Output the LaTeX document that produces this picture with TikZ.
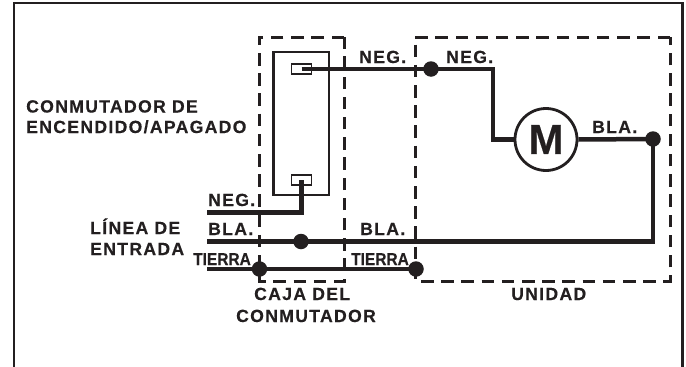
\documentclass[tikz,border=0pt]{standalone}
\usepackage{fontspec}
\setmainfont{Liberation Sans}[BoldFont=* Bold]
\newfontfamily\lblfont{Liberation Sans Bold}[LetterSpace=7.5,FakeBold=0.35]
\newfontfamily\tightfont{Liberation Sans Bold}[FakeBold=0.35]
\newfontfamily\narrowfont{Liberation Sans Bold}[FakeBold=0.35,FakeStretch=0.9]
\definecolor{ink}{HTML}{231F20}
\tikzset{
  lbl/.style={anchor=base west,inner sep=0pt,text=ink,font=\lblfont\fontsize{17.6}{18}\selectfont},
  tlbl/.style={anchor=base west,inner sep=0pt,text=ink,font=\narrowfont\fontsize{17.2}{18}\selectfont},
  wire/.style={draw=ink,line width=4.5pt,line join=miter},
  box/.style={draw=ink,line width=3pt,dash pattern=on 12.5pt off 7.7pt},
  solidbox/.style={draw=ink,line width=2.8pt},
  term/.style={draw=ink,line width=1.7pt,fill=white},
  dot/.style={circle,fill=ink,inner sep=0pt,minimum size=15.5pt}
}
\begin{document}
\begin{tikzpicture}[x=1pt,y=-1pt]
\useasboundingbox (0,0) rectangle (686,367);
\fill[white] (0,0) rectangle (686,367);
% outer frame, open at the bottom
\draw[draw=ink,line width=2.8pt] (14,367) -- (14,3) -- (682.5,3) -- (682.5,367);
% dashed boxes
\draw[box] (344,37) -- (259,37) -- (259,281) -- (344,281) -- cycle;
\draw[box] (670,37) -- (415,37) -- (415,281) -- (670,281) -- cycle;
% switch
\draw[solidbox] (273.5,52) rectangle (329,195);
\node[term,minimum width=20pt,minimum height=10pt,inner sep=0pt] (t1) at (301.5,69) {};
\node[term,minimum width=20pt,minimum height=10pt,inner sep=0pt] (t2) at (301.5,180) {};
% junctions
\node[dot] (j1) at (431,69) {};
\node[dot] (j2) at (653,139) {};
\node[dot] (j3) at (301,241.5) {};
\node[dot] (j4) at (259.5,269) {};
\node[dot] (j5) at (416,269) {};
\coordinate (negin) at (207,212.5);
\coordinate (blain) at (207,241.5);
\coordinate (tierin) at (207,269);
% motor
\node[circle,draw=ink,line width=2.8pt,fill=white,minimum size=62pt,inner sep=0pt,text=ink] (m) at (546,139.5) {\tightfont\fontsize{42}{42}\selectfont M};
% wires
\draw[wire] (t1.center) -- (j1.center);
\draw[wire] (j1.center) -| (493,139.5) -- (m.west);
\draw[wire] (m.east) -- (j2.center);
\draw[wire] (j2.center) -- (653,241.5) -- (blain);
\draw[wire] (negin) -| (t2.center);
\draw[wire] (tierin) -- (j5.center);
% labels
\node[lbl] (a) at (26,112.5) {CONMUTADOR DE};
\node[lbl] (b) at (26,133) {ENCENDIDO/APAGADO};
\node[lbl] (c) at (90,234) {LÍNEA DE};
\node[lbl] (d) at (90,255) {ENTRADA};
\node[lbl] (e) at (208,206) {NEG.};
\node[lbl] (f) at (208,235) {BLA.};
\node[tlbl] (g) at (193,265) {TIERRA};
\node[lbl] (h) at (359,63) {NEG.};
\node[lbl] (i) at (446,63) {NEG.};
\node[lbl] (k) at (592,133) {BLA.};
\node[lbl] (l) at (360,235) {BLA.};
\node[tlbl] (n) at (351,265) {TIERRA};
\node[lbl] (o) at (254,300) {CAJA DEL};
\node[lbl] (p) at (236,322) {CONMUTADOR};
\node[lbl] (q) at (511,300) {UNIDAD};
\end{tikzpicture}
\end{document}
